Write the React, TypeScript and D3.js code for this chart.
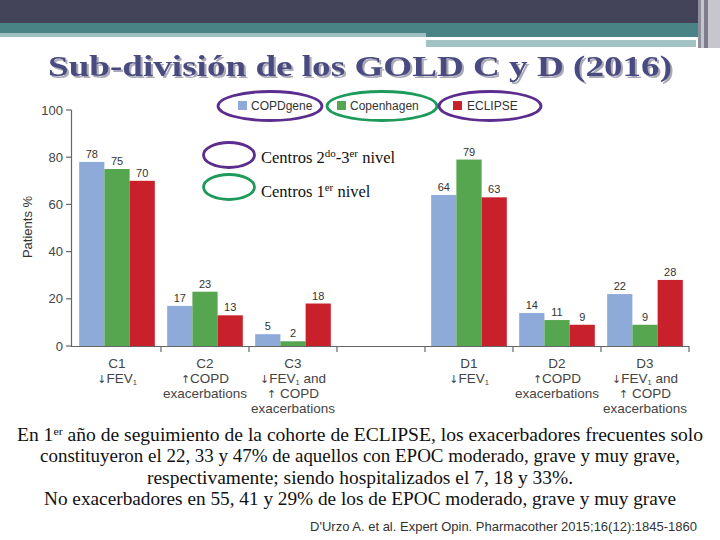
import React from "react";
import * as d3 from "d3";

const categories = ["C1", "C2", "C3", "", "D1", "D2", "D3"];
const seriesNames = ["COPDgene", "Copenhagen", "ECLIPSE"];
const copdgene = [78, 17, 5, null, 64, 14, 22];
const copenhagen = [75, 23, 2, null, 79, 11, 9];
const eclipse = [70, 13, 18, null, 63, 9, 28];
const yTicks = [0, 20, 40, 60, 80, 100];
const catLabels: string[][] = [
  ["C1", "↓FEV1"],
  ["C2", "↑COPD", "exacerbations"],
  ["C3", "↓FEV1 and", "↑ COPD", "exacerbations"],
  [],
  ["D1", "↓FEV1"],
  ["D2", "↑COPD", "exacerbations"],
  ["D3", "↓FEV1 and", "↑ COPD", "exacerbations"],
];
const bodyLines = [
  "constituyeron el 22, 33 y 47% de aquellos con EPOC moderado, grave y muy grave,",
  "respectivamente; siendo hospitalizados el 7, 18 y 33%.",
  "No exacerbadores en 55, 41 y 29% de los de EPOC moderado, grave y muy grave",
];
const bodyWidths = [640, 426, 632];
const colors = ["#8eaad9", "#55a64f", "#c9212b"];
const series = [copdgene, copenhagen, eclipse];

function Label({ text, x, y }: { text: string; x: number; y: number }) {
  const arrowFont = "'DejaVu Sans', sans-serif";
  if (text.includes("FEV1")) {
    const [pre, post] = text.split("FEV1");
    return (
      <text x={x} y={y} textAnchor="middle">
        <tspan fontFamily={arrowFont} fontSize={11}>{pre}</tspan>
        <tspan>FEV</tspan>
        <tspan fontSize={7.5} dy={2}>1</tspan>
        <tspan dy={-2}>{post}</tspan>
      </text>
    );
  }
  if (text.startsWith("↑")) {
    return (
      <text x={x} y={y} textAnchor="middle">
        <tspan fontFamily={arrowFont} fontSize={11}>↑</tspan>
        <tspan>{text.slice(1)}</tspan>
      </text>
    );
  }
  return (
    <text x={x} y={y} textAnchor="middle">
      {text}
    </text>
  );
}

export default function App() {
  const keys = categories.map((c, i) => c || "gap" + i);
  const x = d3.scaleBand<string>().domain(keys).range([73, 689]).paddingInner(0).paddingOuter(0);
  const inner = d3.scaleBand<string>().domain(seriesNames).range([0, x.bandwidth()]).paddingInner(0).paddingOuter(0.245);
  const y = d3.scaleLinear().domain([0, 100]).range([346, 110]);
  const sans = "'Liberation Sans', Arial, sans-serif";
  const serif = "'Liberation Serif', 'Times New Roman', serif";
  const boundaries = keys.map((k) => (x(k) as number) + x.bandwidth());

  return (
    <svg width={720} height={540} style={{ position: "absolute", left: 0, top: 0, background: "#fff" }} fontFamily={sans}>
      <defs>
        <filter id="tshadow" x="-5%" y="-20%" width="110%" height="150%">
          <feDropShadow dx={2} dy={2} stdDeviation={0.6} floodColor="#a9a9b8" floodOpacity={1} />
        </filter>
      </defs>
      {/* header bands */}
      <rect x={0} y={0} width={720} height={23} fill="#43445a" />
      <rect x={0} y={23} width={720} height={10} fill="#4a8386" />
      <rect x={0} y={33} width={426} height={4} fill="#9fc0c2" />
      <rect x={426} y={33} width={294} height={4} fill="#4a8386" />
      <rect x={426} y={40} width={270} height={7} fill="#a3c2c4" />
      <rect x={698} y={0} width={3} height={48} fill="#8e8e9c" />
      <rect x={701} y={0} width={3} height={48} fill="#c4c4cc" />
      <rect x={704} y={0} width={4} height={48} fill="#7c7c8c" />
      <rect x={708} y={0} width={12} height={48} fill="#c6c6cc" />

      {/* title */}
      <text x={360} y={76} textAnchor="middle" fontFamily={serif} fontWeight="bold" fontSize={30} fill="#4a4b80" textLength={624} lengthAdjust="spacingAndGlyphs" filter="url(#tshadow)">
        Sub-división de los GOLD C y D (2016)
      </text>

      {/* legend */}
      {(() => {
        const items = [
          { sq: 238, tx: 251, cx: 270, rx: 52, stroke: "#5a2d8e" },
          { sq: 337, tx: 350, cx: 382, rx: 55, stroke: "#1e9a5b" },
          { sq: 453, tx: 467, cx: 490, rx: 51, stroke: "#5a2d8e" },
        ];
        return items.map((it, i) => (
          <g key={i}>
            <rect x={it.sq} y={101} width={9} height={9} fill={colors[i]} />
            <text x={it.tx} y={110} fontSize={12} fill="#333">{seriesNames[i]}</text>
            <ellipse cx={it.cx} cy={106} rx={it.rx} ry={14.5} fill="none" stroke={it.stroke} strokeWidth={2.8} />
          </g>
        ));
      })()}

      {/* annotations */}
      <ellipse cx={229} cy={155} rx={25.5} ry={12.5} fill="none" stroke="#5a2d8e" strokeWidth={2.8} />
      <ellipse cx={229} cy={187} rx={25.5} ry={12.5} fill="none" stroke="#1e9a5b" strokeWidth={2.8} />
      <text x={261} y={163} fontFamily={serif} fontSize={16.5} fill="#111">
        Centros 2<tspan fontSize={11} dy={-6}>do</tspan><tspan dy={6}>-3</tspan><tspan fontSize={11} dy={-6}>er</tspan><tspan dy={6}> nivel</tspan>
      </text>
      <text x={261} y={197} fontFamily={serif} fontSize={16.5} fill="#111">
        Centros 1<tspan fontSize={11} dy={-6}>er</tspan><tspan dy={6}> nivel</tspan>
      </text>

      {/* y axis */}
      <line x1={71.5} x2={71.5} y1={y(100)} y2={y(0) + 0.5} stroke="#666" strokeWidth={1.2} />
      {yTicks.map((t) => (
        <g key={t}>
          <line x1={66} x2={71.5} y1={y(t)} y2={y(t)} stroke="#666" strokeWidth={1.2} />
          <text x={63} y={y(t) + 4.5} textAnchor="end" fontSize={13} fill="#444">{t}</text>
        </g>
      ))}
      <text transform="translate(32,227) rotate(-90)" textAnchor="middle" fontSize={13} fill="#333">Patients %</text>

      {/* x axis */}
      <line x1={71} x2={689} y1={346.5} y2={346.5} stroke="#666" strokeWidth={1.2} />
      {boundaries.map((b, i) => (
        <line key={i} x1={b} x2={b} y1={346} y2={352} stroke="#666" strokeWidth={1.2} />
      ))}

      {/* bars */}
      {keys.map((k, ci) =>
        series.map((s, si) => {
          const v = s[ci];
          if (v == null) return null;
          const bx = (x(k) as number) + (inner(seriesNames[si]) as number);
          return (
            <g key={k + si}>
              <rect x={bx} y={y(v)} width={inner.bandwidth()} height={y(0) - y(v)} fill={colors[si]} />
              <text x={bx + inner.bandwidth() / 2} y={y(v) - 4} textAnchor="middle" fontSize={11} fill="#333">{v}</text>
            </g>
          );
        })
      )}

      {/* category labels */}
      <g fontSize={13.5} fill="#444">
        {keys.map((k, ci) =>
          catLabels[ci].map((line, li) => (
            <Label key={k + li} text={line} x={(x(k) as number) + x.bandwidth() / 2} y={368 + li * 15} />
          ))
        )}
      </g>

      {/* body text */}
      <g fontFamily={serif} fontSize={18} fill="#111" textAnchor="middle">
        <text x={360} y={441} textLength={686} lengthAdjust="spacingAndGlyphs">
          En 1<tspan fontSize={11} dy={-6}>er</tspan><tspan dy={6}> año de seguimiento de la cohorte de ECLIPSE, los exacerbadores frecuentes solo</tspan>
        </text>
        {bodyLines.map((l, i) => (
          <text key={i} x={360} y={462 + i * 21.5} textLength={bodyWidths[i]} lengthAdjust="spacingAndGlyphs">{l}</text>
        ))}
      </g>
      <text x={697} y={531} textAnchor="end" fontSize={13} fill="#333">
        D'Urzo A. et al. Expert Opin. Pharmacother 2015;16(12):1845-1860
      </text>
    </svg>
  );
}
